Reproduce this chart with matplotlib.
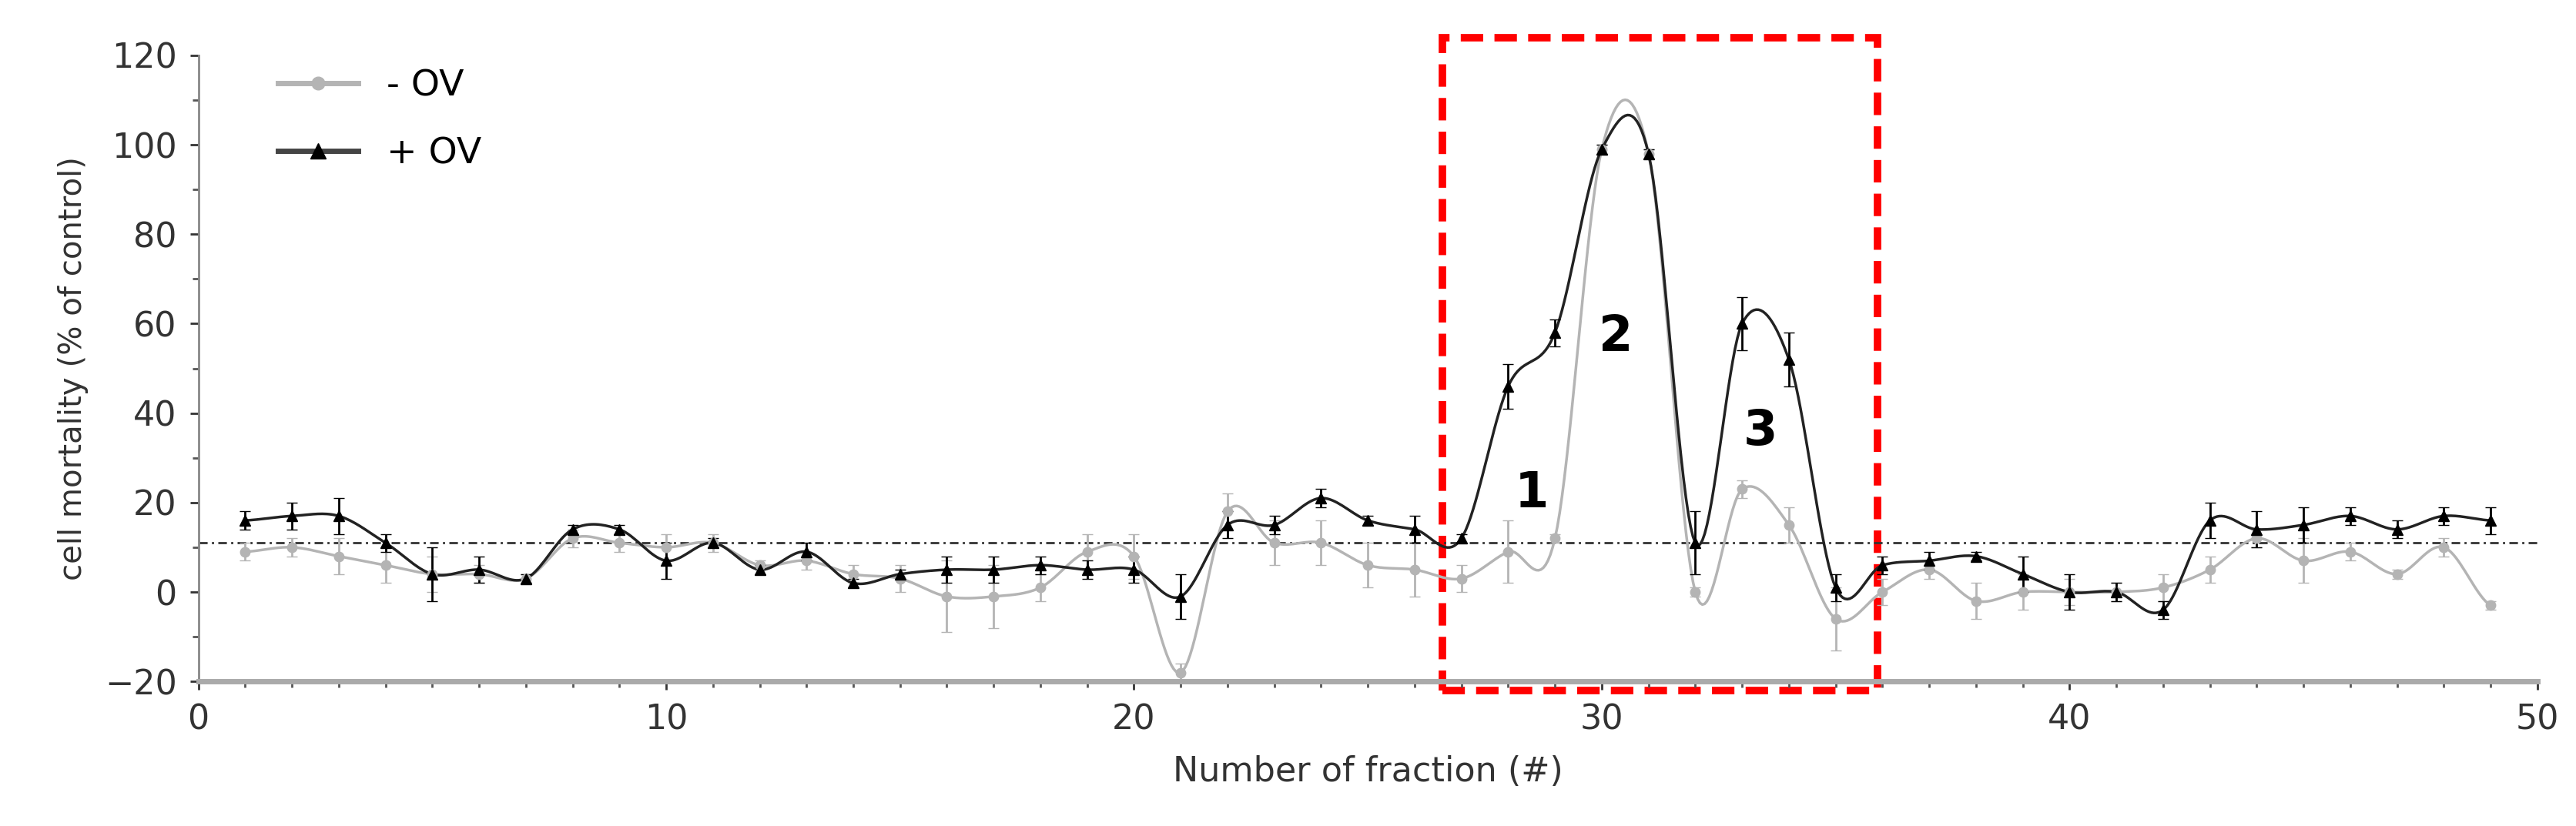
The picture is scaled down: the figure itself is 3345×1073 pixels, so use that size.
import numpy as np
import matplotlib.pyplot as plt
from matplotlib.patches import Rectangle

fractions = list(range(1, 50))
minus_ov = [9, 10, 8, 6, 4, 4, 3, 12, 11, 10, 11, 6, 7, 4, 3, -1, -1, 1, 9, 8,
            -18, 18, 11, 11, 6, 5, 3, 9, 12, 99, 98, 0, 23, 15, -6, 0, 5, -2, 0, 0,
            0, 1, 5, 12, 7, 9, 4, 10, -3]
minus_err = [2, 2, 4, 4, 4, 2, 1, 2, 2, 3, 2, 1, 2, 2, 3, 8, 7, 3, 4, 5,
             2, 4, 5, 5, 5, 6, 3, 7, 1, 1, 1, 1, 2, 4, 7, 3, 2, 4, 4, 3,
             2, 3, 3, 2, 5, 2, 1, 2, 1]
plus_ov = [16, 17, 17, 11, 4, 5, 3, 14, 14, 7, 11, 5, 9, 2, 4, 5, 5, 6, 5, 5,
           -1, 15, 15, 21, 16, 14, 12, 46, 58, 99, 98, 11, 60, 52, 1, 6, 7, 8, 4, 0,
           0, -4, 16, 14, 15, 17, 14, 17, 16]
plus_err = [2, 3, 4, 2, 6, 3, 1, 1, 1, 4, 1, 1, 2, 1, 1, 3, 3, 2, 2, 3,
            5, 3, 2, 2, 1, 3, 1, 5, 3, 1, 1, 7, 6, 6, 3, 2, 2, 1, 4, 4,
            2, 2, 4, 4, 4, 2, 2, 2, 3]
threshold = 11


def smooth(x, y, n=20):
    # Catmull-Rom curve through the points, like Excel's smoothed lines
    x = np.asarray(x, float)
    y = np.asarray(y, float)
    px = np.r_[2 * x[0] - x[1], x, 2 * x[-1] - x[-2]]
    py = np.r_[y[0], y, y[-1]]
    xs, ys = [], []
    t = np.linspace(0, 1, n, endpoint=False)
    for i in range(1, len(px) - 2):
        for p, out in ((px, xs), (py, ys)):
            p0, p1, p2, p3 = p[i - 1:i + 3]
            out.extend(0.5 * (2 * p1 + (-p0 + p2) * t + (2 * p0 - 5 * p1 + 4 * p2 - p3) * t ** 2
                              + (-p0 + 3 * p1 - 3 * p2 + p3) * t ** 3))
    xs.append(x[-1])
    ys.append(y[-1])
    return xs, ys


fig = plt.figure(figsize=(33.45, 10.73), dpi=100)
ax = fig.add_axes([0.077, 0.175, 0.908, 0.758])

grey = '#b4b4b4'
ax.axhline(threshold, color='#333333', ls=(0, (4, 2, 1, 2)), lw=2)

sx, sy = smooth(fractions, minus_ov)
ax.plot(sx, sy, color=grey, lw=2.5)
ax.errorbar(fractions, minus_ov, yerr=minus_err, fmt='o', color=grey, ms=9,
            capsize=5, elinewidth=2)
sx, sy = smooth(fractions, plus_ov)
ax.plot(sx, sy, color='#222222', lw=2.5)
ax.errorbar(fractions, plus_ov, yerr=plus_err, fmt='^', color='black', ms=10,
            capsize=5, elinewidth=2)

ax.plot([], [], color=grey, marker='o', ms=12, lw=5, label='- OV')
ax.plot([], [], color='#444444', marker='^', mfc='black', mec='black', ms=15, lw=5, label='+ OV')
ax.legend(loc='upper left', frameon=False, fontsize=34, handlelength=2.2,
          labelspacing=0.9, bbox_to_anchor=(0.02, 1.03))

ax.add_patch(Rectangle((26.6, -22), 9.3, 146, fill=False, ec='red', lw=7,
                       ls=(0, (3, 1.5)), clip_on=False))
for label, lx, ly in [('1', 28.5, 22), ('2', 30.3, 57), ('3', 33.4, 36)]:
    ax.text(lx, ly, label, fontsize=46, fontweight='bold', ha='center', va='center')

ax.set_xlim(0, 50)
ax.set_ylim(-20, 120)
ax.set_xticks([0, 10, 20, 30, 40, 50])
ax.set_xticks(range(0, 51), minor=True)
ax.set_yticks(range(-20, 121, 20))
ax.set_yticks(range(-20, 121, 10), minor=True)
ax.tick_params(labelsize=32, colors='#333333', length=8, width=2, pad=12)
ax.tick_params(which='minor', length=6, width=2, color='#555555')
ax.set_xlabel('Number of fraction (#)', fontsize=32, color='#333333', labelpad=18)
ax.set_ylabel('cell mortality (% of control)', fontsize=29, color='#333333', labelpad=15)
for s in ['top', 'right']:
    ax.spines[s].set_visible(False)
ax.spines['left'].set_color('#888888')
ax.spines['left'].set_linewidth(2)
ax.spines['bottom'].set_color('#aaaaaa')
ax.spines['bottom'].set_linewidth(5)

fig.savefig('out.png')
